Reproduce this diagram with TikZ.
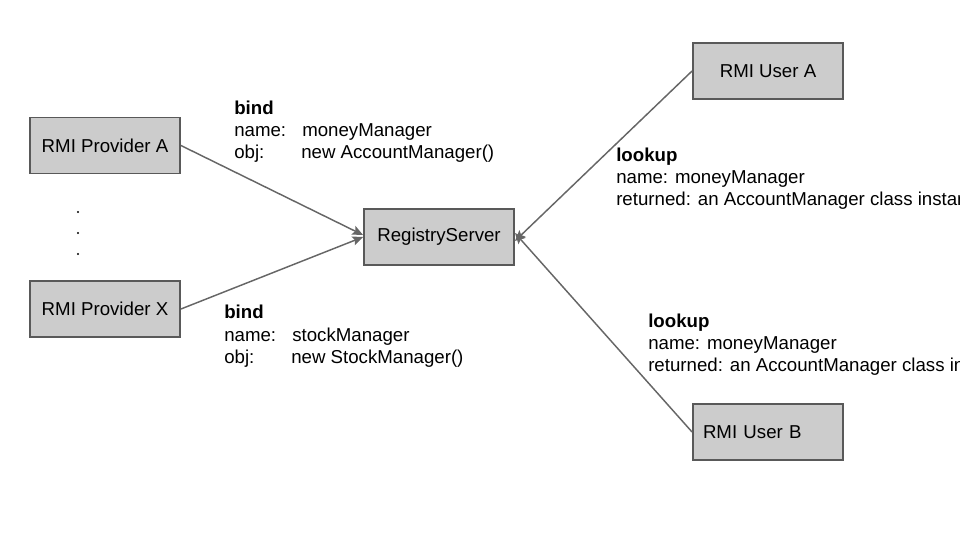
\documentclass[tikz,border=0pt]{standalone}
\usepackage{fontspec}
\setmainfont{Liberation Sans}
\usetikzlibrary{arrows.meta}
\definecolor{boxfill}{HTML}{CCCCCC}
\definecolor{boxline}{HTML}{595959}
\definecolor{arrowc}{HTML}{666666}
\begin{document}
\begin{tikzpicture}[x=0.75pt,y=-0.75pt,
  box/.style={draw=boxline,fill=boxfill,line width=1.4pt,minimum width=150*0.75pt,minimum height=56*0.75pt,inner sep=0pt,font=\fontsize{14}{16}\selectfont},
  lbl/.style={anchor=base west,inner sep=0pt,font=\fontsize{14}{16}\selectfont},
  hd/.style={lbl,font=\fontsize{14}{16}\selectfont\bfseries},
  conn/.style={draw=arrowc,line width=1.1pt,-{Stealth[length=8pt,width=7pt,inset=1.5pt]}},
  dotc/.style={circle,fill=black,inner sep=0pt,minimum size=1.6pt}]
\useasboundingbox (0,0) rectangle (960,540);
\clip (0,0) rectangle (960,540);
\node[box] (pa) at (105,145.5) {RMI Provider A};
\node[box] (px) at (105,309) {RMI Provider X};
\node[box] (rs) at (439,237) {RegistryServer};
\node[box] (ua) at (768,71) {RMI User A};
\node[box,text width=130*0.75pt,align=left] (ub) at (768,432) {RMI User B};
\node[dotc] (d1) at (78,212) {};
\node[dotc] (d2) at (78,233) {};
\node[dotc] (d3) at (78,254) {};
\draw[conn] (pa.east) -- ([yshift=2*0.75pt]rs.west);
\draw[conn] (px.east) -- ([yshift=0]rs.west);
\draw[conn] (ua.west) -- ([yshift=-4*0.75pt]rs.east);
\draw[conn] (ub.west) -- ([yshift=4*0.75pt]rs.east);
% bind 1
\node[hd] (b1h) at (234,114) {bind};
\node[lbl] (b1n) at (234,136) {name:};
\node[lbl] (b1nv) at (302,136) {moneyManager};
\node[lbl] (b1o) at (234,158.5) {obj:};
\node[lbl] (b1ov) at (301,158.5) {new AccountManager()};
% bind 2
\node[hd] (b2h) at (224,318.5) {bind};
\node[lbl] (b2n) at (224,341) {name:};
\node[lbl] (b2nv) at (292,341) {stockManager};
\node[lbl] (b2o) at (224,363) {obj:};
\node[lbl] (b2ov) at (291,363) {new StockManager()};
% lookup 1
\node[hd] (l1h) at (616,161) {lookup};
\node[lbl] (l1n) at (616,183) {name: moneyManager};
\node[lbl] (l1r) at (616,205) {returned: an AccountManager class instance};
% lookup 2
\node[hd] (l2h) at (648,327) {lookup};
\node[lbl] (l2n) at (648,349) {name: moneyManager};
\node[lbl] (l2r) at (648,371) {returned: an AccountManager class instance};
\end{tikzpicture}
\end{document}
